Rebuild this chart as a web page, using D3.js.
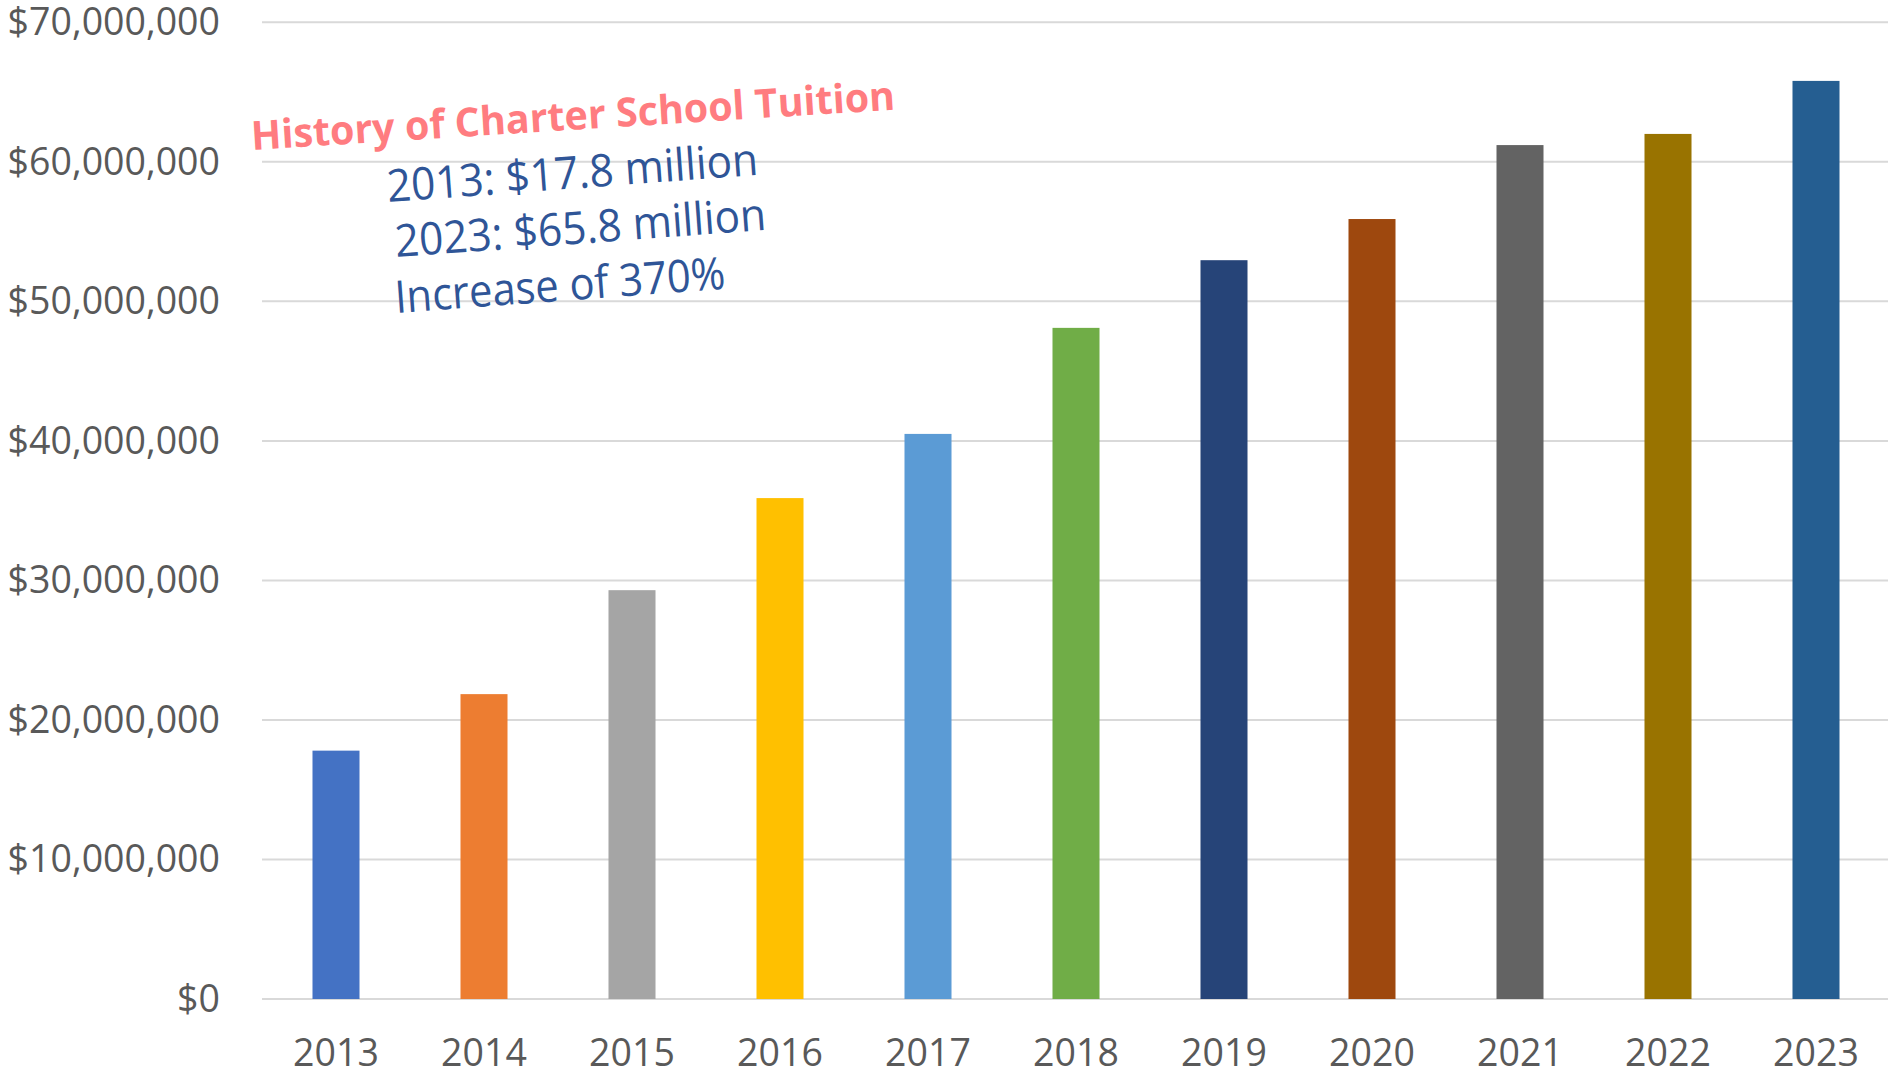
<!DOCTYPE html>
<html>
<head>
<meta charset="utf-8">
<script src="https://cdn.jsdelivr.net/npm/d3@7"></script>
<style>
  html, body { margin: 0; padding: 0; background: #ffffff; }
  svg { display: block; }
</style>
</head>
<body>
<svg id="chart" width="1888" height="1069"></svg>
<script>
// ---- data ----
const years = ["2013","2014","2015","2016","2017","2018","2019","2020","2021","2022","2023"];
const tuition = [17800000, 21850000, 29300000, 35900000, 40500000, 48100000, 52950000, 55900000, 61200000, 62000000, 65800000];
const barColors = ["#4472C4","#ED7D31","#A5A5A5","#FFC000","#5B9BD5","#70AD47","#264478","#9E480E","#636363","#997300","#255E91"];
const yTicks = [0, 10000000, 20000000, 30000000, 40000000, 50000000, 60000000, 70000000];
const titleText = "History of Charter School Tuition";
const noteLines = ["2013: $17.8 million", "2023: $65.8 million", "Increase of 370%"];

// ---- layout ----
const svg = d3.select("#chart");
const plotLeft = 262, plotRight = 1890, plotTop = 22.3, plotBottom = 999;
const font = "'Open Sans', 'Noto Sans', sans-serif";
const grey = "#595959";

const x = d3.scaleBand().domain(years).range([plotLeft, plotRight])
  .paddingInner(0.6824).paddingOuter(0.3412);
const y = d3.scaleLinear().domain([0, 70000000]).range([plotBottom, plotTop]);

// gridlines
svg.append("g").selectAll("line").data(yTicks).join("line")
  .attr("x1", plotLeft).attr("x2", 1888)
  .attr("y1", d => y(d)).attr("y2", d => y(d))
  .attr("stroke", "#D9D9D9").attr("stroke-width", 2);

// bars
svg.append("g").selectAll("rect").data(years).join("rect")
  .attr("x", d => x(d))
  .attr("width", x.bandwidth())
  .attr("y", (d, i) => y(tuition[i]))
  .attr("height", (d, i) => y(0) - y(tuition[i]))
  .attr("fill", (d, i) => barColors[i]);

// y axis
const yAxis = svg.append("g").attr("transform", `translate(${plotLeft},0)`)
  .call(d3.axisLeft(y).tickValues(yTicks).tickFormat(d3.format("$,")).tickSize(0).tickPadding(42));
yAxis.select(".domain").remove();
yAxis.selectAll("text")
  .attr("font-family", font).attr("font-size", 37.5).attr("fill", grey).attr("dy", "0.333em");

// x axis
const xAxis = svg.append("g").attr("transform", `translate(0,${plotBottom})`)
  .call(d3.axisBottom(x).tickSize(0).tickPadding(0));
xAxis.select(".domain").remove();
xAxis.selectAll("text")
  .attr("font-family", font).attr("font-size", 37.5).attr("fill", grey)
  .attr("y", 67).attr("dy", 0);

// annotation
svg.append("text")
  .attr("transform", "translate(252,150) rotate(-3.6)")
  .attr("font-family", font).attr("font-weight", 700).attr("font-size", 40)
  .attr("fill", "#FF7C80")
  .attr("textLength", 645).attr("lengthAdjust", "spacingAndGlyphs")
  .text(titleText);

const notePos = [[388, 202, 372], [396, 257, 372], [396, 313, 331]];
svg.append("g").selectAll("text").data(noteLines).join("text")
  .attr("transform", (d, i) => `translate(${notePos[i][0]},${notePos[i][1]}) rotate(-4.2)`)
  .attr("font-family", font).attr("font-size", 45).attr("fill", "#2F5597")
  .attr("textLength", (d, i) => notePos[i][2]).attr("lengthAdjust", "spacingAndGlyphs")
  .text(d => d);
</script>
</body>
</html>
